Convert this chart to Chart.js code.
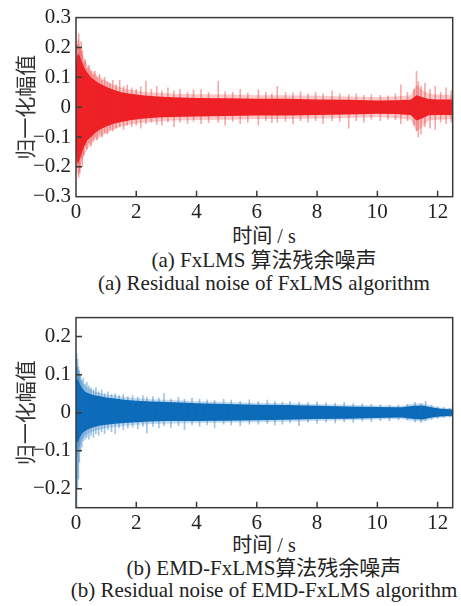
<!DOCTYPE html>
<html>
<head>
<meta charset="utf-8">
<script src="https://cdn.jsdelivr.net/npm/chart.js@4.4.0/dist/chart.umd.min.js"></script>
<style>
  body { margin: 0; background: #fff; }
  #page { position: relative; width: 461px; height: 606px; overflow: hidden; }
  canvas { position: absolute; left: 0; }
  .cap { position: absolute; left: 0; width: 528px; text-align: center; white-space: nowrap;
         font-family: "Liberation Serif", "Times New Roman", "Noto Sans CJK SC", serif; color: #222; line-height: 1; }
</style>
</head>
<body>
<div id="page">
  <canvas id="chartA" width="461" height="222" style="top:0"></canvas>
  <canvas id="chartB" width="461" height="233" style="top:300px"></canvas>
  <div class="cap" style="top:226px;font-size:20px">时间 / s</div>
  <div class="cap" style="top:250px;font-size:21px">(a) FxLMS 算法残余噪声</div>
  <div class="cap" style="top:273px;font-size:21px">(a) Residual noise of FxLMS algorithm</div>
  <div class="cap" style="top:535px;font-size:20px">时间 / s</div>
  <div class="cap" style="top:558px;font-size:21px">(b) EMD-FxLMS算法残余噪声</div>
  <div class="cap" style="top:580px;font-size:21px">(b) Residual noise of EMD-FxLMS algorithm</div>
</div>
<script>
var SERIF = "'Liberation Serif', 'Times New Roman', serif";

// axis ticks
var xTicks = [0, 2, 4, 6, 8, 10, 12];
var yTicksA = [-0.3, -0.2, -0.1, 0, 0.1, 0.2, 0.3];
var yTicksB = [-0.2, -0.1, 0, 0.1, 0.2];

// (a) FxLMS residual noise: dense core, faint outer band, single spikes
var timeA = [0, 0.03, 0.08, 0.13, 0.2, 0.28, 0.38, 0.5, 0.65, 0.8, 1.0, 1.25, 1.5, 1.8, 2.2, 2.7, 3.2, 4, 5, 6, 7, 8, 9, 10, 10.6, 11.1, 11.3, 11.45, 11.7, 12, 12.5];
var coreHiA = [0.14, 0.17, 0.18, 0.17, 0.15, 0.13, 0.115, 0.1, 0.088, 0.078, 0.068, 0.058, 0.05, 0.045, 0.04, 0.036, 0.033, 0.031, 0.03, 0.028, 0.028, 0.026, 0.025, 0.022, 0.023, 0.025, 0.04, 0.035, 0.027, 0.026, 0.026];
var coreLoA = [-0.15, -0.18, -0.19, -0.17, -0.15, -0.13, -0.11, -0.1, -0.085, -0.075, -0.065, -0.056, -0.05, -0.044, -0.039, -0.035, -0.033, -0.031, -0.03, -0.028, -0.028, -0.026, -0.025, -0.022, -0.023, -0.026, -0.045, -0.04, -0.027, -0.026, -0.026];
var fuzzHiA = [0.19, 0.22, 0.23, 0.21, 0.18, 0.16, 0.14, 0.125, 0.11, 0.1, 0.088, 0.075, 0.065, 0.058, 0.052, 0.048, 0.045, 0.043, 0.042, 0.04, 0.04, 0.038, 0.036, 0.033, 0.036, 0.04, 0.075, 0.06, 0.045, 0.042, 0.04];
var fuzzLoA = [-0.2, -0.22, -0.23, -0.21, -0.18, -0.16, -0.14, -0.125, -0.11, -0.1, -0.088, -0.075, -0.065, -0.058, -0.052, -0.048, -0.045, -0.043, -0.042, -0.04, -0.04, -0.038, -0.036, -0.033, -0.036, -0.042, -0.08, -0.07, -0.045, -0.042, -0.04];
var spikeTimeA = [0.04, 0.09, 0.13, 0.17, 0.21, 0.26, 0.31, 0.36, 0.43, 0.5, 0.57, 0.63, 0.7, 0.78, 0.86, 0.95, 1.04, 1.13, 1.22, 1.33, 1.45, 1.58, 1.7, 1.85, 2.0, 2.15, 2.32, 2.5, 2.68, 2.85, 3.05, 3.25, 3.45, 3.7, 3.9, 4.15, 4.4, 4.72, 4.95, 5.2, 5.45, 5.7, 6.05, 6.3, 6.5, 6.68, 6.95, 7.2, 7.45, 7.7, 7.95, 8.2, 8.5, 8.75, 9.05, 9.3, 9.55, 9.8, 10.1, 10.35, 10.6, 10.78, 11.0, 11.22, 11.3, 11.36, 11.45, 11.58, 11.75, 11.92, 12.1, 12.28, 12.45];
var spikeHiA = [0.21, 0.245, 0.2, 0.22, 0.19, 0.15, 0.16, 0.13, 0.14, 0.12, 0.11, 0.12, 0.1, 0.11, 0.09, 0.1, 0.085, 0.08, 0.09, 0.075, 0.09, 0.07, 0.075, 0.065, 0.06, 0.068, 0.087, 0.06, 0.07, 0.055, 0.065, 0.055, 0.06, 0.05, 0.057, 0.06, 0.05, 0.087, 0.052, 0.05, 0.06, 0.048, 0.058, 0.05, 0.045, 0.07, 0.05, 0.048, 0.052, 0.045, 0.05, 0.045, 0.055, 0.045, 0.042, 0.045, 0.04, 0.042, 0.04, 0.038, 0.045, 0.075, 0.05, 0.06, 0.12, 0.085, 0.07, 0.08, 0.06, 0.07, 0.05, 0.065, 0.055];
var spikeLoA = [-0.2, -0.235, -0.22, -0.17, -0.2, -0.16, -0.13, -0.14, -0.12, -0.13, -0.11, -0.1, -0.11, -0.09, -0.1, -0.085, -0.09, -0.075, -0.08, -0.07, -0.065, -0.075, -0.06, -0.065, -0.06, -0.07, -0.055, -0.05, -0.058, -0.06, -0.05, -0.065, -0.05, -0.055, -0.048, -0.055, -0.052, -0.05, -0.06, -0.048, -0.055, -0.05, -0.06, -0.045, -0.052, -0.05, -0.048, -0.056, -0.045, -0.05, -0.045, -0.055, -0.045, -0.048, -0.07, -0.045, -0.05, -0.04, -0.045, -0.04, -0.042, -0.055, -0.045, -0.06, -0.08, -0.1, -0.09, -0.065, -0.07, -0.075, -0.05, -0.055, -0.05];

// (b) EMD-FxLMS residual noise
var timeB = [0, 0.03, 0.08, 0.13, 0.2, 0.3, 0.45, 0.6, 0.8, 1.0, 1.3, 1.6, 2.0, 2.5, 3, 3.5, 4, 5, 6, 7, 8, 9, 10, 10.8, 11.2, 11.5, 11.8, 12.1, 12.5];
var coreHiB = [0.08, 0.09, 0.085, 0.075, 0.065, 0.055, 0.05, 0.046, 0.043, 0.04, 0.037, 0.034, 0.031, 0.029, 0.028, 0.027, 0.025, 0.023, 0.021, 0.02, 0.018, 0.016, 0.015, 0.014, 0.018, 0.019, 0.014, 0.01, 0.008];
var coreLoB = [-0.07, -0.08, -0.075, -0.065, -0.055, -0.048, -0.042, -0.038, -0.034, -0.032, -0.029, -0.027, -0.025, -0.023, -0.022, -0.022, -0.022, -0.021, -0.02, -0.019, -0.017, -0.016, -0.014, -0.013, -0.017, -0.018, -0.013, -0.01, -0.008];
var fuzzHiB = [0.11, 0.13, 0.11, 0.095, 0.08, 0.07, 0.062, 0.056, 0.052, 0.048, 0.045, 0.041, 0.038, 0.035, 0.034, 0.032, 0.03, 0.028, 0.026, 0.025, 0.023, 0.021, 0.019, 0.018, 0.024, 0.024, 0.018, 0.013, 0.011];
var fuzzLoB = [-0.1, -0.12, -0.1, -0.085, -0.07, -0.06, -0.053, -0.048, -0.044, -0.041, -0.038, -0.035, -0.032, -0.03, -0.029, -0.028, -0.028, -0.026, -0.025, -0.024, -0.022, -0.02, -0.018, -0.017, -0.022, -0.023, -0.017, -0.013, -0.011];
var spikeTimeB = [0.02, 0.05, 0.08, 0.11, 0.15, 0.19, 0.24, 0.3, 0.36, 0.43, 0.5, 0.58, 0.66, 0.75, 0.85, 0.95, 1.06, 1.18, 1.3, 1.43, 1.57, 1.72, 1.88, 2.05, 2.22, 2.35, 2.55, 2.75, 2.92, 3.15, 3.4, 3.6, 3.85, 4.1, 4.35, 4.6, 4.9, 5.15, 5.45, 5.75, 6.05, 6.35, 6.6, 6.85, 7.1, 7.4, 7.7, 8.0, 8.3, 8.6, 8.9, 9.2, 9.5, 9.8, 10.1, 10.4, 10.7, 11.0, 11.25, 11.45, 11.6, 11.8, 12.0, 12.2, 12.4];
var spikeHiB = [0.155, 0.14, 0.12, 0.11, 0.1, 0.085, 0.09, 0.075, 0.08, 0.07, 0.065, 0.06, 0.065, 0.055, 0.06, 0.05, 0.055, 0.048, 0.05, 0.045, 0.048, 0.042, 0.045, 0.04, 0.045, 0.04, 0.042, 0.038, 0.05, 0.036, 0.04, 0.035, 0.038, 0.036, 0.034, 0.032, 0.035, 0.033, 0.03, 0.034, 0.03, 0.033, 0.03, 0.028, 0.03, 0.028, 0.027, 0.029, 0.026, 0.025, 0.027, 0.024, 0.023, 0.022, 0.021, 0.02, 0.02, 0.022, 0.027, 0.024, 0.03, 0.02, 0.016, 0.014, 0.012];
var spikeLoB = [-0.25, -0.2, -0.175, -0.13, -0.1, -0.09, -0.075, -0.07, -0.065, -0.07, -0.06, -0.065, -0.055, -0.06, -0.05, -0.055, -0.045, -0.05, -0.055, -0.04, -0.045, -0.04, -0.038, -0.042, -0.036, -0.053, -0.036, -0.04, -0.034, -0.04, -0.034, -0.045, -0.032, -0.036, -0.032, -0.04, -0.03, -0.032, -0.034, -0.03, -0.03, -0.028, -0.032, -0.03, -0.027, -0.034, -0.026, -0.028, -0.025, -0.027, -0.024, -0.026, -0.022, -0.024, -0.021, -0.022, -0.019, -0.02, -0.025, -0.026, -0.022, -0.018, -0.015, -0.013, -0.011];

function pts(xs, ys) {
    return xs.map(function (x, i) { return { x: x, y: ys[i] }; });
}
function bars(xs, hi, lo) {
    return xs.map(function (x, i) { return { x: x, y: [lo[i], hi[i]] }; });
}
function fmt(v) {
    if (v === 0) return '0';
    return (v < 0 ? '\u2212' : '') + Math.abs(v).toFixed(1);
}

// frame around the plot area plus inward tick marks
var framePlugin = {
    id: 'frame',
    afterDraw: function (chart) {
        var ctx = chart.ctx, a = chart.chartArea;
        var xs = chart.scales.x, ys = chart.scales.y;
        ctx.save();
        ctx.strokeStyle = '#3a3a3a';
        ctx.lineWidth = 1.5;
        ctx.beginPath();
        xs.ticks.forEach(function (t) {
            var px = xs.getPixelForValue(t.value);
            if (px <= a.left + 1) return;
            ctx.moveTo(px, a.bottom);
            ctx.lineTo(px, a.bottom - 6);
        });
        ys.ticks.forEach(function (t) {
            var py = ys.getPixelForValue(t.value);
            if (py <= a.top + 1 || py >= a.bottom - 1) return;
            ctx.moveTo(a.left, py);
            ctx.lineTo(a.left + 6, py);
        });
        ctx.stroke();
        ctx.strokeRect(a.left, a.top, a.right - a.left, a.bottom - a.top);
        ctx.restore();
    }
};

function makeChart(id, cfg) {
    var band = function (data, color, fill) {
        return { type: 'line', data: data, borderWidth: 0, pointRadius: 0, tension: 0,
                 backgroundColor: color, fill: fill, order: 2 };
    };
    return new Chart(document.getElementById(id), {
        type: 'line',
        data: {
            datasets: [
                band(pts(cfg.time, cfg.fuzzHi), cfg.fuzz, false),
                band(pts(cfg.time, cfg.fuzzLo), cfg.fuzz, '-1'),
                band(pts(cfg.time, cfg.coreHi), cfg.core, false),
                band(pts(cfg.time, cfg.coreLo), cfg.core, '-1'),
                { type: 'bar', data: bars(cfg.spikeTime, cfg.spikeHi, cfg.spikeLo),
                  backgroundColor: cfg.spike, barThickness: 1, borderWidth: 0, order: 1 }
            ]
        },
        options: {
            responsive: false,
            animation: false,
            events: [],
            layout: { padding: { top: cfg.padTop, right: 8.3, bottom: 0, left: 0 } },
            plugins: { legend: { display: false }, tooltip: { enabled: false } },
            scales: {
                x: {
                    type: 'linear', min: 0, max: 12.5, offset: false,
                    grid: { display: false, drawTicks: false }, border: { display: false },
                    afterBuildTicks: function (s) { s.ticks = xTicks.map(function (v) { return { value: v }; }); },
                    afterFit: function (s) { s.height = 25.3; },
                    ticks: { padding: 3, color: '#222', maxRotation: 0,
                             font: { family: SERIF, size: 21 } }
                },
                y: {
                    min: cfg.yMin, max: cfg.yMax,
                    grid: { display: false, drawTicks: false }, border: { display: false },
                    afterBuildTicks: function (s) { s.ticks = cfg.yTicks.map(function (v) { return { value: v }; }); },
                    afterFit: function (s) { s.width = 76; },
                    ticks: { padding: 5, color: '#222', callback: fmt,
                             font: { family: SERIF, size: 21 } },
                    title: { display: true, text: '归一化幅值', color: '#333',
                             padding: { top: 12, bottom: 0 },
                             font: { family: "'Noto Sans CJK SC'", size: 21 } }
                }
            }
        },
        plugins: [framePlugin]
    });
}

makeChart('chartA', {
    time: timeA, coreHi: coreHiA, coreLo: coreLoA, fuzzHi: fuzzHiA, fuzzLo: fuzzLoA,
    spikeTime: spikeTimeA, spikeHi: spikeHiA, spikeLo: spikeLoA,
    core: '#ee1c24', fuzz: 'rgba(238,40,40,0.25)', spike: 'rgba(238,40,40,0.4)',
    yMin: -0.3, yMax: 0.3, yTicks: yTicksA, padTop: 12.7
});
makeChart('chartB', {
    time: timeB, coreHi: coreHiB, coreLo: coreLoB, fuzzHi: fuzzHiB, fuzzLo: fuzzLoB,
    spikeTime: spikeTimeB, spikeHi: spikeHiB, spikeLo: spikeLoB,
    core: '#0a6ab6', fuzz: 'rgba(20,110,190,0.25)', spike: 'rgba(20,110,190,0.4)',
    yMin: -0.25, yMax: 0.25, yTicks: yTicksB, padTop: 14.7
});
</script>
</body>
</html>
